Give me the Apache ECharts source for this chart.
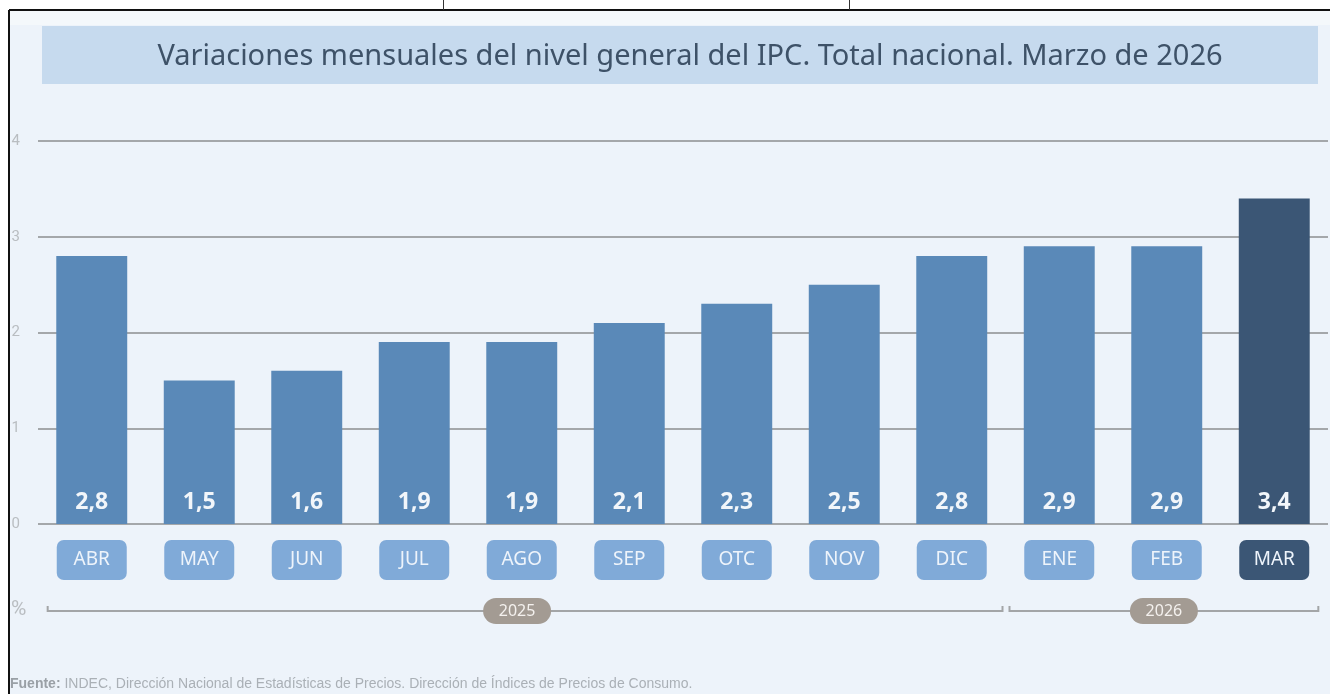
<!DOCTYPE html>
<html>
<head>
<meta charset="utf-8">
<script src="https://cdn.jsdelivr.net/npm/echarts@6/dist/echarts.min.js"></script>
<style>
  html, body { margin: 0; padding: 0; background: #fff; }
  #chart { width: 1330px; height: 694px; }
</style>
</head>
<body>
<div id="chart"></div>
<script>
// Data
const months = ['ABR', 'MAY', 'JUN', 'JUL', 'AGO', 'SEP', 'OTC', 'NOV', 'DIC', 'ENE', 'FEB', 'MAR'];
const values = [2.8, 1.5, 1.6, 1.9, 1.9, 2.1, 2.3, 2.5, 2.8, 2.9, 2.9, 3.4];
const yTicks = [0, 1, 2, 3, 4];
const years = [
  { label: '2025', from: 'ABR', to: 'DIC' },
  { label: '2026', from: 'ENE', to: 'MAR' }
];
const highlight = 'MAR';

const titleText = 'Variaciones mensuales del nivel general del IPC. Total nacional. Marzo de 2026';
const sourceText = 'INDEC, Dirección Nacional de Estadísticas de Precios. Dirección de Índices de Precios de Consumo.';

const BAR = '#5a89b8';
const BAR_DARK = '#3b5675';
const BOX = '#80aad8';
const GRID = '#a4a7aa';
const NARROW = '"Liberation Sans Narrow", "Noto Sans", sans-serif';

const chart = echarts.init(document.getElementById('chart'));

const boxStyle = (bg) => ({
  backgroundColor: bg, color: '#eef4fb', width: 70, height: 40, lineHeight: 40,
  align: 'center', borderRadius: 7, fontSize: 19, fontFamily: NARROW
});

const option = {
  backgroundColor: '#edf3fa',
  animation: false,
  grid: { left: 38, right: 2, top: 141, bottom: 170, containLabel: false },
  xAxis: {
    type: 'category',
    data: months,
    axisLine: { show: false },
    axisTick: { show: false },
    axisLabel: {
      margin: 16,
      interval: 0,
      formatter: v => (v === highlight ? '{d|' + v + '}' : '{l|' + v + '}'),
      rich: { l: boxStyle(BOX), d: boxStyle(BAR_DARK) }
    }
  },
  yAxis: {
    type: 'value',
    min: yTicks[0],
    max: yTicks[yTicks.length - 1],
    interval: 1,
    axisLine: { show: false },
    axisTick: { show: false },
    axisLabel: { color: '#b9bdc1', fontSize: 15, margin: 18, fontFamily: 'Roboto, sans-serif' },
    splitLine: { lineStyle: { color: GRID, width: 2 } }
  },
  series: [{
    type: 'bar',
    barWidth: '66%',
    data: months.map((m, i) => ({
      value: values[i],
      itemStyle: { color: m === highlight ? BAR_DARK : BAR }
    })),
    label: {
      show: true,
      position: 'insideBottom',
      distance: 10,
      color: '#f2f6fa',
      fontSize: 23,
      fontWeight: 'bold',
      fontFamily: '"Noto Sans", sans-serif',
      formatter: p => String(p.value).replace('.', ',')
    }
  }]
};

chart.setOption(option);

// decorations: frame, title band, year brackets, footer
const px = m => chart.convertToPixel({ xAxisIndex: 0 }, m);
const band = px(months[1]) - px(months[0]);
const lineY = 611;
const graphics = [];

graphics.push({ type: 'rect', shape: { x: 0, y: 0, width: 1330, height: 10 }, style: { fill: '#fff' } });
graphics.push({ type: 'rect', shape: { x: 0, y: 0, width: 9, height: 694 }, style: { fill: '#fff' } });
graphics.push({ type: 'rect', shape: { x: 10, y: 11, width: 1320, height: 14 }, style: { fill: '#f4f8fb' } });
graphics.push({ type: 'line', shape: { x1: 9, y1: 10, x2: 1330, y2: 10 }, style: { stroke: '#111', lineWidth: 2 } });
graphics.push({ type: 'line', shape: { x1: 9, y1: 10, x2: 9, y2: 694 }, style: { stroke: '#111', lineWidth: 2 } });
graphics.push({ type: 'line', shape: { x1: 443.5, y1: 0, x2: 443.5, y2: 10 }, style: { stroke: '#333', lineWidth: 1 } });
graphics.push({ type: 'line', shape: { x1: 849.5, y1: 0, x2: 849.5, y2: 10 }, style: { stroke: '#333', lineWidth: 1 } });

graphics.push({ type: 'rect', shape: { x: 42, y: 26, width: 1276, height: 58 }, style: { fill: '#c6daee' } });
graphics.push({
  type: 'text', x: 690, y: 57,
  style: {
    text: titleText, fill: '#3e5268', fontSize: 29, align: 'center', verticalAlign: 'middle',
    fontFamily: '"Noto Sans", sans-serif'
  }
});

years.forEach((yr, k) => {
  const x1 = k === 0 ? px(yr.from) - band * 0.41 : (px(months[months.indexOf(yr.from) - 1]) + px(yr.from)) / 2 + 4;
  const x2 = k === years.length - 1 ? px(yr.to) + band * 0.41 : (px(yr.to) + px(months[months.indexOf(yr.to) + 1])) / 2 - 3;
  graphics.push({
    type: 'polyline',
    shape: { points: [[x1, lineY - 5], [x1, lineY], [x2, lineY], [x2, lineY - 5]] },
    style: { stroke: '#a3a5a7', lineWidth: 2, fill: null }
  });
  const cx = (x1 + x2) / 2 - (k === 0 ? 8 : 0);
  graphics.push({ type: 'rect', shape: { x: cx - 34, y: lineY - 13, width: 68, height: 26, r: 13 }, style: { fill: '#a39b93' } });
  graphics.push({
    type: 'text', x: cx, y: lineY,
    style: {
      text: yr.label, fill: '#f4f1ee', fontSize: 16, align: 'center', verticalAlign: 'middle',
      fontFamily: NARROW
    }
  });
});

graphics.push({
  type: 'text', x: 11, y: 610,
  style: { text: '%', fill: '#b9bdc1', fontSize: 21, verticalAlign: 'middle', fontFamily: 'Roboto, sans-serif' }
});

graphics.push({
  type: 'text', x: 10, y: 684,
  style: {
    text: '{b|Fuente:} ' + sourceText,
    verticalAlign: 'middle',
    rich: {
      b: { fill: '#9aa0a6', fontSize: 14, fontWeight: 'bold', fontFamily: '"Liberation Sans", sans-serif' }
    },
    fill: '#aab0b6', fontSize: 14, fontFamily: '"Liberation Sans", sans-serif'
  }
});

chart.setOption({ graphic: graphics });
</script>
</body>
</html>
